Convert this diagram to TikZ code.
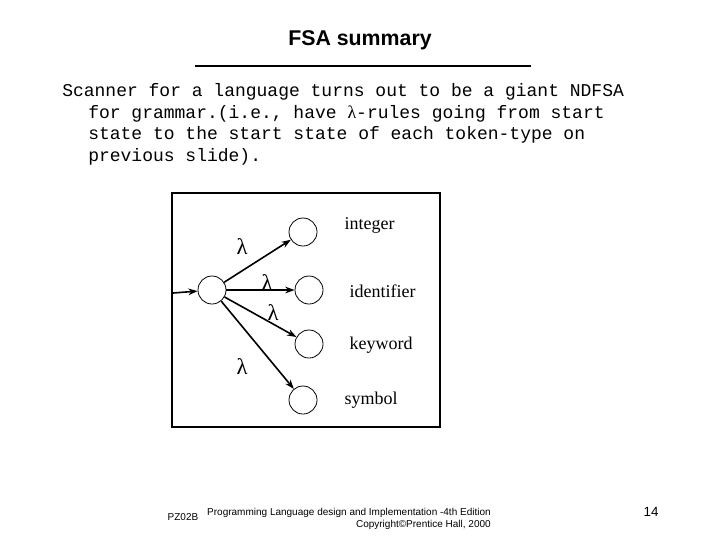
\documentclass[tikz,border=0pt]{standalone}
\usepackage{fontspec}
\setmainfont{Liberation Serif}
\newfontfamily\arial{Liberation Sans}
\newfontfamily\cour{Liberation Mono}
\usetikzlibrary{arrows.meta}
\begin{document}
\begin{tikzpicture}[x=0.75pt,y=-0.75pt,
  st/.style={draw,circle,minimum size=21pt,inner sep=0pt,line width=0.6pt},
  tr/.style={-{Stealth[length=7pt,width=5pt]},line width=1.2pt},
  lab/.style={font=\fontsize{13.5}{15}\selectfont,anchor=west},
  lam/.style={font=\fontsize{17}{17}\selectfont},
  code/.style={font=\cour\fontsize{13.5}{16.2}\selectfont,anchor=west,inner sep=0pt}]
\useasboundingbox (0,0) rectangle (720,540);
\node[font=\arial\bfseries\fontsize{16}{18}\selectfont] (title) at (360,40) {FSA summary};
\draw[line width=2.2pt] (195,66) -- (531,66);
\node[code] (l1) at (62,92) {Scanner for a language turns out to be a giant NDFSA};
\node[code] (l2) at (88,114) {for grammar.(i.e., have \fontspec{Liberation Serif}λ\cour-rules going from start};
\node[code] (l3) at (88,135) {state to the start state of each token-type on};
\node[code] (l4) at (88,157) {previous slide).};
\draw[line width=0.8pt] (172,193) rectangle (440,427);
\node[st] (s) at (212,290) {};
\node[st] (a) at (303,232) {};
\node[st] (b) at (309,290) {};
\node[st] (c) at (309,344) {};
\node[st] (d) at (303,400) {};
\coordinate (in) at (173,293);
\draw[tr] (in) -- (s);
\draw[tr] (s) -- (a);
\draw[tr] (s) -- (b);
\draw[tr] (s) -- (c);
\draw[tr] (s) -- (d);
\node[lam] (la) at (242,247) {λ};
\node[lam] (lb) at (267,283) {λ};
\node[lam] (lc) at (273,313) {λ};
\node[lam] (ld) at (242,367) {λ};
\node[lab] (ta) at (340,225) {integer};
\node[lab] (tb) at (345,291) {identifier};
\node[lab] (tc) at (345,345) {keyword};
\node[lab] (td) at (340,400) {symbol};
\node[font=\arial\fontsize{7.5}{9}\selectfont] (f1) at (183,517) {PZ02B};
\node[font=\arial\fontsize{7.5}{9}\selectfont,align=right,anchor=north east,inner sep=0pt] (f2) at (491,508) {Programming Language design and Implementation -4th Edition\\Copyright©Prentice Hall, 2000};
\node[font=\arial\fontsize{10}{12}\selectfont] (f3) at (651,512) {14};
\end{tikzpicture}
\end{document}
